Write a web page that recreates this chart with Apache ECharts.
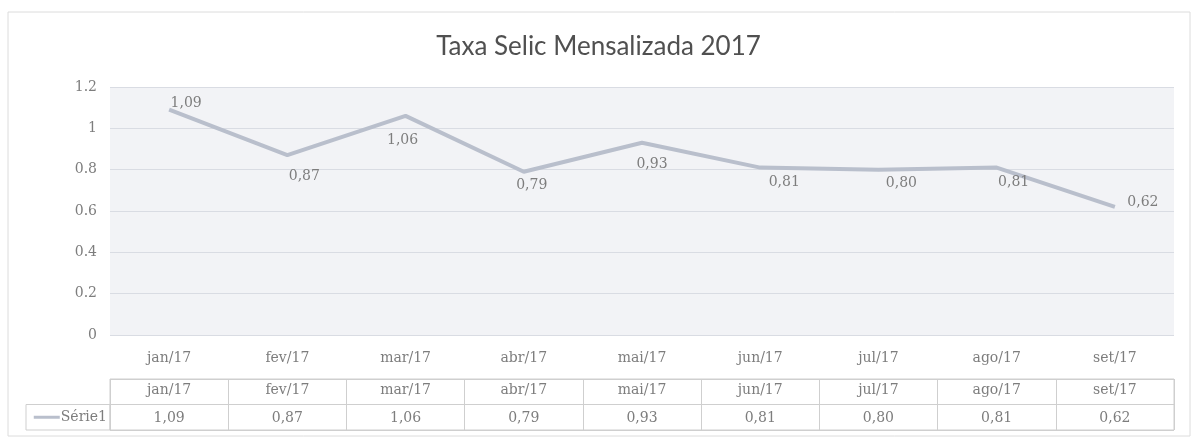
<!DOCTYPE html>
<html>
<head>
<meta charset="utf-8">
<script src="https://cdn.jsdelivr.net/npm/echarts@6/dist/echarts.min.js"></script>
<style>
html,body{margin:0;padding:0;background:#fff;}
#chart{width:1197px;height:443px;}
</style>
</head>
<body>
<div id="chart"></div>
<script>
// ---- data ----
const title = 'Taxa Selic Mensalizada 2017';
const seriesName = 'Série1';
const categories = ['jan/17','fev/17','mar/17','abr/17','mai/17','jun/17','jul/17','ago/17','set/17'];
const values = [1.09, 0.87, 1.06, 0.79, 0.93, 0.81, 0.80, 0.81, 0.62];
const yTicks = [0, 0.2, 0.4, 0.6, 0.8, 1, 1.2];

// ---- styling ----
const labelOffsets = [[17,-6],[17,21],[-3,24],[8,14],[10,22],[24,15],[23,14],[17,15],[28,-5]];
const serif = 'DejaVu Serif';
const textColor = '#7d7d7d';
const lineColor = '#b9bfcc';
const gridLeft = 110, gridRight = 23;
const fmt = v => v.toFixed(2).replace('.', ',');

const chart = echarts.init(document.getElementById('chart'));
chart.setOption({
  animation: false,
  backgroundColor: '#fff',
  title: {
    text: title, left: 'center', top: 29,
    textStyle: {fontFamily: 'Lato', fontWeight: 'normal', fontSize: 26, color: '#505050'}
  },
  graphic: [
    {type: 'rect', shape: {x: 8, y: 12, width: 1182, height: 424}, style: {fill: 'none', stroke: '#dcdcdc', lineWidth: 1}, silent: true, z: -1},
    {type: 'rect', shape: {x: 26, y: 404.5, width: gridLeft - 26, height: 25.5}, style: {fill: 'none', stroke: '#cfcfcf', lineWidth: 1}, silent: true}
  ],
  grid: [
    {left: gridLeft, right: gridRight, top: 87, height: 248, show: true, backgroundColor: '#f2f3f6', borderWidth: 0},
    {left: gridLeft, right: gridRight, top: 379, height: 51, show: true, backgroundColor: 'transparent', borderColor: '#cfcfcf', borderWidth: 1}
  ],
  xAxis: [
    {gridIndex: 0, type: 'category', data: categories, boundaryGap: true,
     axisLine: {show: false}, axisTick: {show: false},
     axisLabel: {margin: 16, fontFamily: serif, fontSize: 14, color: textColor}},
    {gridIndex: 1, type: 'category', data: categories, position: 'top', boundaryGap: true,
     axisLine: {show: false}, axisTick: {show: false},
     splitLine: {show: true, lineStyle: {color: '#cfcfcf', width: 1}},
     axisLabel: {inside: true, margin: 4, fontFamily: serif, fontSize: 14, color: textColor}},
    {gridIndex: 1, type: 'category', data: values.map(fmt), position: 'bottom', boundaryGap: true,
     axisLine: {show: false}, axisTick: {show: false}, splitLine: {show: false},
     axisLabel: {inside: true, margin: 5, fontFamily: serif, fontSize: 14, color: textColor}}
  ],
  yAxis: [
    {gridIndex: 0, type: 'value', min: yTicks[0], max: yTicks[yTicks.length - 1], interval: 0.2,
     axisLine: {show: false}, axisTick: {show: false},
     splitLine: {lineStyle: {color: '#d9dce3', width: 1}},
     axisLabel: {margin: 13, fontFamily: serif, fontSize: 14, color: textColor,
                 formatter: v => String(+v.toFixed(1))}},
    {gridIndex: 1, type: 'category', data: [seriesName, ''], boundaryGap: true,
     axisLine: {show: false}, axisTick: {show: false},
     splitLine: {show: true, lineStyle: {color: '#cfcfcf', width: 1}},
     axisLabel: {margin: 3,
       formatter: v => v ? '{k|}{t|' + v + '}' : '',
       rich: {
         k: {width: 26, height: 3, backgroundColor: lineColor},
         t: {fontFamily: serif, fontSize: 14, color: textColor, padding: [0, 0, 0, 1]}
       }}}
  ],
  series: [{
    type: 'line', name: seriesName, xAxisIndex: 0, yAxisIndex: 0,
    data: values.map((v, i) => ({value: v, label: {offset: labelOffsets[i]}})),
    symbol: 'circle', symbolSize: 2, showSymbol: true,
    itemStyle: {color: 'rgba(0,0,0,0)', borderWidth: 0},
    lineStyle: {color: lineColor, width: 4},
    label: {show: true, position: 'inside', formatter: p => fmt(p.value),
            fontFamily: serif, fontSize: 14, color: textColor}
  }]
});
</script>
</body>
</html>
